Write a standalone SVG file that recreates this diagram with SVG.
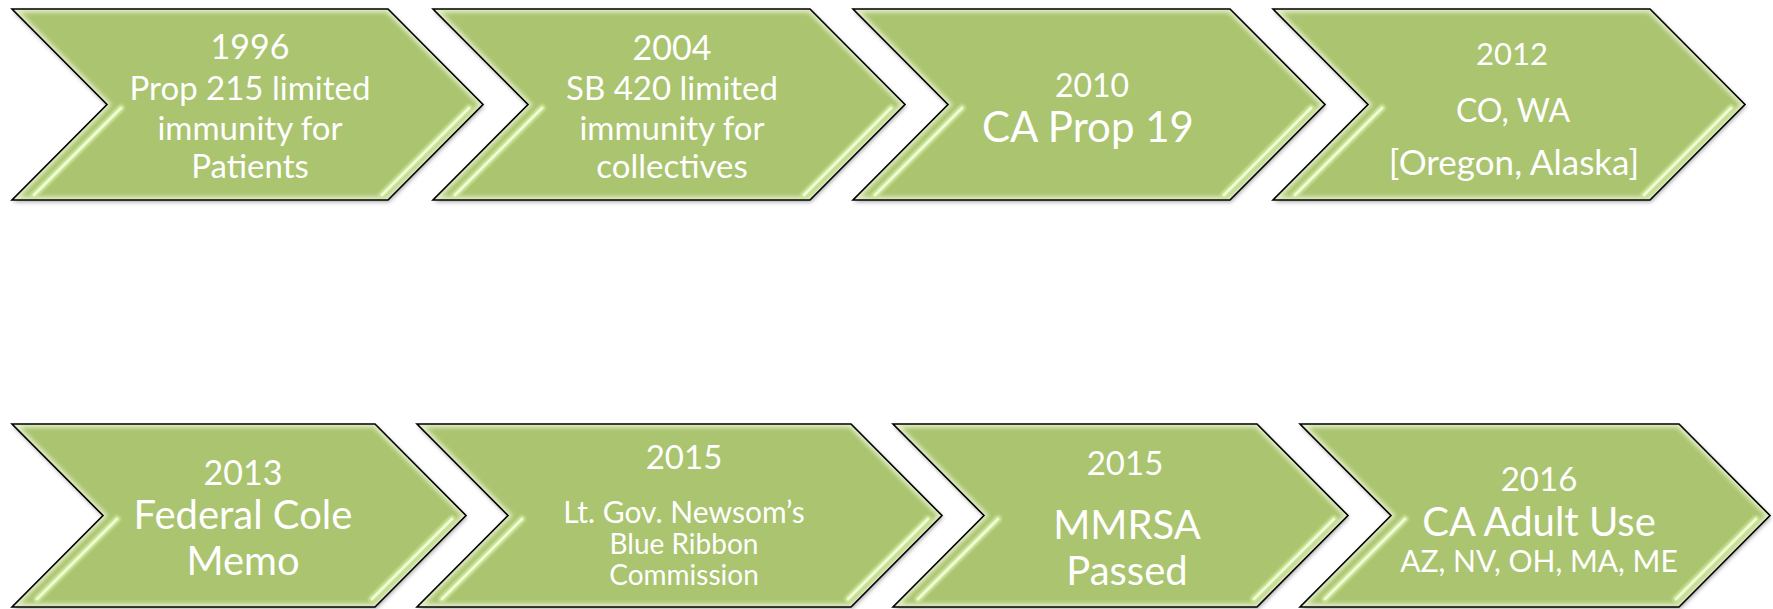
<svg xmlns="http://www.w3.org/2000/svg" xmlns:xlink="http://www.w3.org/1999/xlink" width="1773" height="609" viewBox="0 0 1773 609">
<style>
.body{fill:#ABC46F;filter:url(#shadow);}
.edge{fill:none;stroke:#000;stroke-width:1.6;stroke-linejoin:miter;}
.glow{fill:none;stroke:#F4FBE2;stroke-width:7;opacity:0.75;filter:url(#blur);}
.hl1{stroke:#CDE79A;stroke-width:7;stroke-linecap:round;filter:url(#soft);}
.hl2{stroke:#F2FCD9;stroke-width:2.5;stroke-linecap:round;}
text{font-family:Lato,"Open Sans","Liberation Sans",sans-serif;fill:#fff;text-anchor:middle;}
</style>
<defs>
<filter id="shadow" x="-10%" y="-10%" width="120%" height="130%">
<feDropShadow dx="1" dy="2" stdDeviation="2" flood-color="#000" flood-opacity="0.35"/>
</filter>
<filter id="blur" x="-5%" y="-5%" width="110%" height="110%"><feGaussianBlur stdDeviation="2.2"/></filter>
<filter id="soft" x="-20%" y="-20%" width="140%" height="140%"><feGaussianBlur stdDeviation="1"/></filter>
<polygon id="p1" points="12,9 388,9 483,104.5 388,200 12,200 107,104.5"/>
<polygon id="p2" points="433,9 810,9 905,104.5 810,200 433,200 528,104.5"/>
<polygon id="p3" points="853,9 1230,9 1325,104.5 1230,200 853,200 948,104.5"/>
<polygon id="p4" points="1273,9 1650,9 1745,104.5 1650,200 1273,200 1368,104.5"/>
<polygon id="p5" points="12,424 375,424 466,515.5 375,607 12,607 103,515.5"/>
<polygon id="p6" points="417,424 851,424 942,515.5 851,607 417,607 508,515.5"/>
<polygon id="p7" points="893,424 1257,424 1348,515.5 1257,607 893,607 984,515.5"/>
<polygon id="p8" points="1300,424 1679,424 1770,515.5 1679,607 1300,607 1391,515.5"/>
<clipPath id="c1"><use xlink:href="#p1"/></clipPath>
<clipPath id="c2"><use xlink:href="#p2"/></clipPath>
<clipPath id="c3"><use xlink:href="#p3"/></clipPath>
<clipPath id="c4"><use xlink:href="#p4"/></clipPath>
<clipPath id="c5"><use xlink:href="#p5"/></clipPath>
<clipPath id="c6"><use xlink:href="#p6"/></clipPath>
<clipPath id="c7"><use xlink:href="#p7"/></clipPath>
<clipPath id="c8"><use xlink:href="#p8"/></clipPath>
</defs>
<rect width="1773" height="609" fill="#fff"/>

<g id="node-1996">
<use xlink:href="#p1" class="body"/>
<use xlink:href="#p1" class="glow" clip-path="url(#c1)"/>
<line class="hl1" x1="121" y1="108" x2="34" y2="195"/><line class="hl2" x1="121" y1="108" x2="34" y2="195"/>
<line class="hl1" x1="469" y1="108" x2="382" y2="195"/><line class="hl2" x1="469" y1="108" x2="382" y2="195"/>
<use xlink:href="#p1" class="edge"/>
<text x="250" y="59" font-size="34">1996</text>
<text x="250" y="100" font-size="33">Prop 215 limited</text>
<text x="250" y="140" font-size="33">immunity for</text>
<text x="250" y="178" font-size="33">Patients</text>
</g>

<g id="node-2004">
<use xlink:href="#p2" class="body"/>
<use xlink:href="#p2" class="glow" clip-path="url(#c2)"/>
<line class="hl1" x1="542" y1="108" x2="455" y2="195"/><line class="hl2" x1="542" y1="108" x2="455" y2="195"/>
<line class="hl1" x1="891" y1="108" x2="804" y2="195"/><line class="hl2" x1="891" y1="108" x2="804" y2="195"/>
<use xlink:href="#p2" class="edge"/>
<text x="672" y="60" font-size="34">2004</text>
<text x="672" y="100" font-size="33">SB 420 limited</text>
<text x="672" y="140" font-size="33">immunity for</text>
<text x="672" y="178" font-size="33">collectives</text>
</g>

<g id="node-2010">
<use xlink:href="#p3" class="body"/>
<use xlink:href="#p3" class="glow" clip-path="url(#c3)"/>
<line class="hl1" x1="962" y1="108" x2="875" y2="195"/><line class="hl2" x1="962" y1="108" x2="875" y2="195"/>
<line class="hl1" x1="1311" y1="108" x2="1224" y2="195"/><line class="hl2" x1="1311" y1="108" x2="1224" y2="195"/>
<use xlink:href="#p3" class="edge"/>
<text x="1092" y="97" font-size="32">2010</text>
<text x="1088" y="142" font-size="42">CA Prop 19</text>
</g>

<g id="node-2012">
<use xlink:href="#p4" class="body"/>
<use xlink:href="#p4" class="glow" clip-path="url(#c4)"/>
<line class="hl1" x1="1382" y1="108" x2="1295" y2="195"/><line class="hl2" x1="1382" y1="108" x2="1295" y2="195"/>
<line class="hl1" x1="1731" y1="108" x2="1644" y2="195"/><line class="hl2" x1="1731" y1="108" x2="1644" y2="195"/>
<use xlink:href="#p4" class="edge"/>
<text x="1512" y="65" font-size="31">2012</text>
<text x="1513" y="122" font-size="32">CO, WA</text>
<text x="1514" y="175" font-size="35">[Oregon, Alaska]</text>
</g>

<g id="node-2013">
<use xlink:href="#p5" class="body"/>
<use xlink:href="#p5" class="glow" clip-path="url(#c5)"/>
<line class="hl1" x1="117" y1="519" x2="37" y2="599"/><line class="hl2" x1="117" y1="519" x2="37" y2="599"/>
<line class="hl1" x1="452" y1="519" x2="372" y2="599"/><line class="hl2" x1="452" y1="519" x2="372" y2="599"/>
<use xlink:href="#p5" class="edge"/>
<text x="243" y="485" font-size="34">2013</text>
<text x="243" y="529" font-size="40">Federal Cole</text>
<text x="243" y="575" font-size="40">Memo</text>
</g>

<g id="node-2015a">
<use xlink:href="#p6" class="body"/>
<use xlink:href="#p6" class="glow" clip-path="url(#c6)"/>
<line class="hl1" x1="522" y1="519" x2="442" y2="599"/><line class="hl2" x1="522" y1="519" x2="442" y2="599"/>
<line class="hl1" x1="928" y1="519" x2="848" y2="599"/><line class="hl2" x1="928" y1="519" x2="848" y2="599"/>
<use xlink:href="#p6" class="edge"/>
<text x="684" y="469" font-size="33">2015</text>
<text x="684" y="523" font-size="30">Lt. Gov. Newsom’s</text>
<text x="684" y="554" font-size="28">Blue Ribbon</text>
<text x="684" y="585" font-size="28">Commission</text>
</g>

<g id="node-2015b">
<use xlink:href="#p7" class="body"/>
<use xlink:href="#p7" class="glow" clip-path="url(#c7)"/>
<line class="hl1" x1="998" y1="519" x2="918" y2="599"/><line class="hl2" x1="998" y1="519" x2="918" y2="599"/>
<line class="hl1" x1="1334" y1="519" x2="1254" y2="599"/><line class="hl2" x1="1334" y1="519" x2="1254" y2="599"/>
<use xlink:href="#p7" class="edge"/>
<text x="1125" y="475" font-size="33">2015</text>
<text x="1127" y="539" font-size="40">MMRSA</text>
<text x="1127" y="585" font-size="40">Passed</text>
</g>

<g id="node-2016">
<use xlink:href="#p8" class="body"/>
<use xlink:href="#p8" class="glow" clip-path="url(#c8)"/>
<line class="hl1" x1="1405" y1="519" x2="1325" y2="599"/><line class="hl2" x1="1405" y1="519" x2="1325" y2="599"/>
<line class="hl1" x1="1756" y1="519" x2="1676" y2="599"/><line class="hl2" x1="1756" y1="519" x2="1676" y2="599"/>
<use xlink:href="#p8" class="edge"/>
<text x="1539" y="491" font-size="33">2016</text>
<text x="1539" y="536" font-size="40">CA Adult Use</text>
<text x="1539" y="572" font-size="30">AZ, NV, OH, MA, ME</text>
</g>

<g id="connectors"/>
</svg>
